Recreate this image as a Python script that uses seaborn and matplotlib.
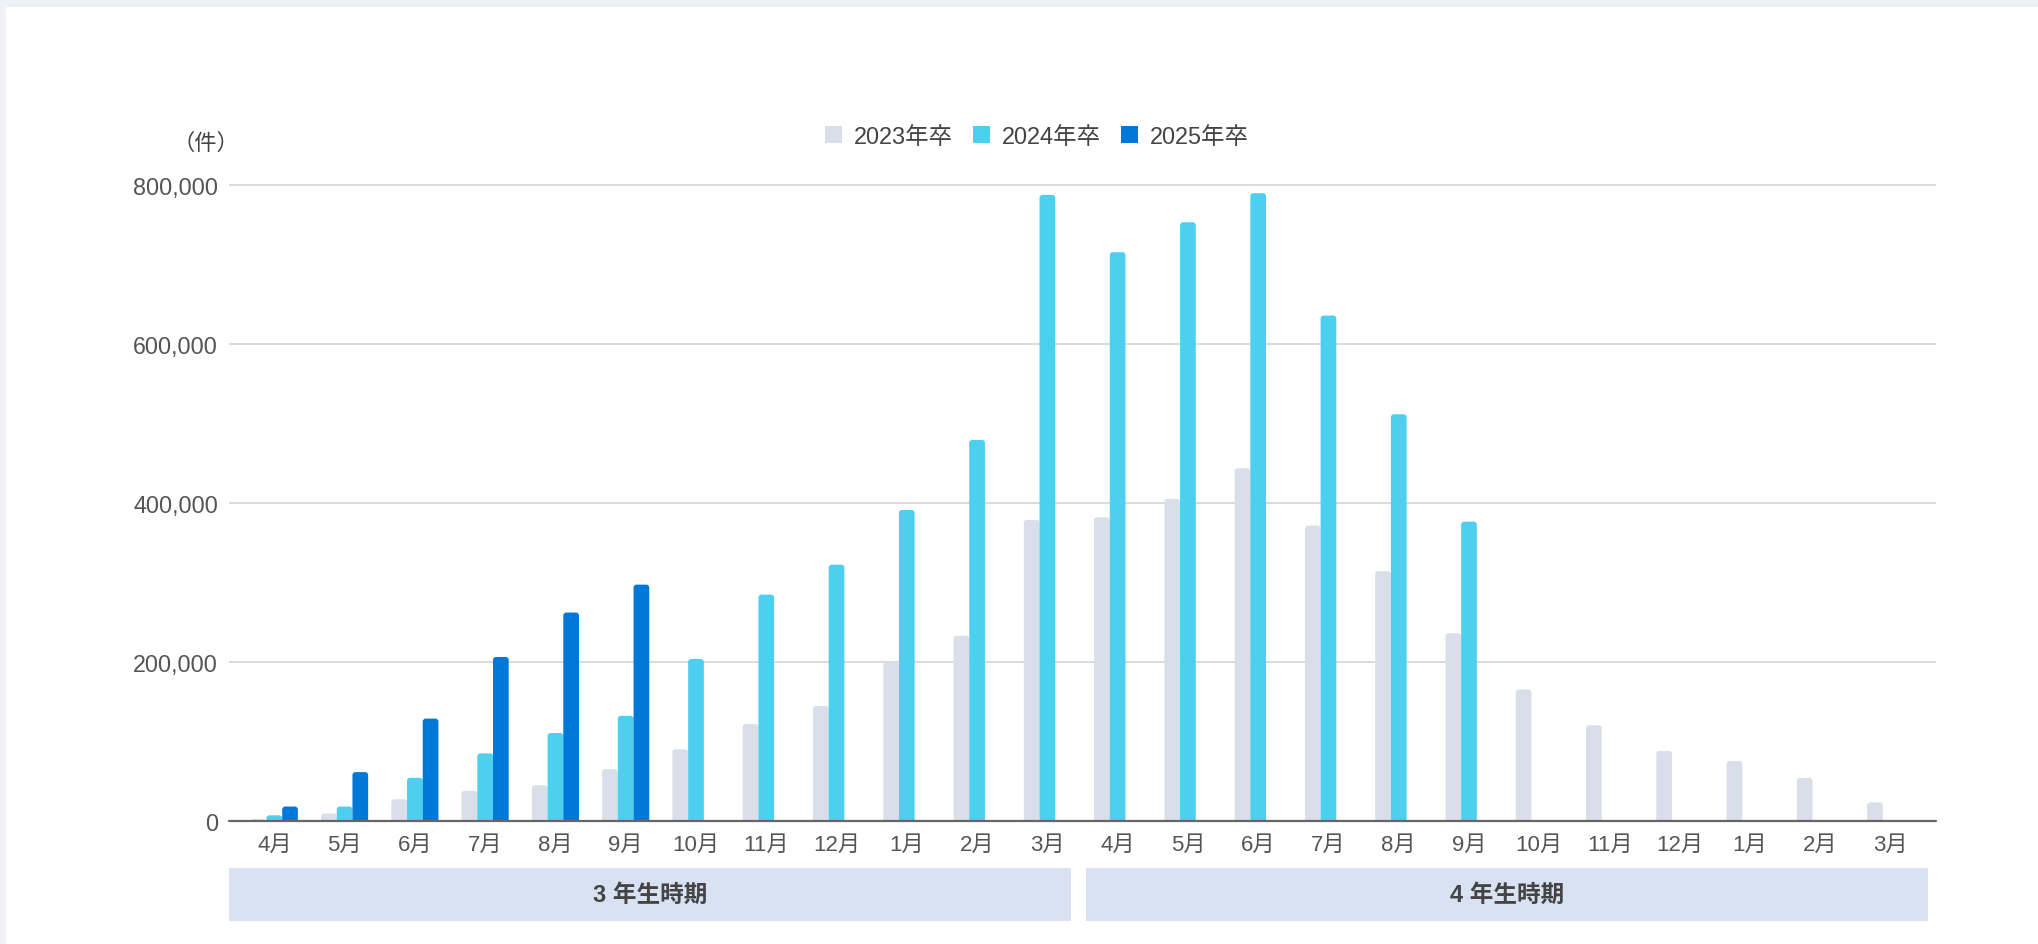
import numpy as np
import pandas as pd
import matplotlib
matplotlib.use("Agg")
import matplotlib.pyplot as plt
from matplotlib.patches import FancyBboxPatch, Rectangle, Patch
import seaborn as sns

# ---- data -------------------------------------------------------------
months = ["4月", "5月", "6月", "7月", "8月", "9月", "10月", "11月", "12月", "1月", "2月", "3月",
          "4月", "5月", "6月", "7月", "8月", "9月", "10月", "11月", "12月", "1月", "2月", "3月"]
periods = ["3 年生時期", "4 年生時期"]
series = ["2023年卒", "2024年卒", "2025年卒"]

v2023 = [2500, 9300, 27400, 37900, 45100, 65300, 90100, 122000, 144700, 199600, 233100, 378700,
         382000, 405100, 443600, 371500, 314100, 236100, 165500, 120400, 88100, 75500, 54100, 23500]
v2024 = [7200, 18200, 54300, 85100, 110700, 132200, 203800, 284700, 322400, 391200, 479300, 787500,
         715400, 753100, 789600, 635700, 511600, 376500]
v2025 = [18200, 61500, 128800, 206300, 262200, 297300]

colors = ["#d9dfe8", "#4dd0ef", "#0078d8"]

rows = []
for name, vals in zip(series, [v2023, v2024, v2025]):
    for i, v in enumerate(vals):
        rows.append({"pos": i, "value": v, "series": name})
df = pd.DataFrame(rows)

# ---- style ------------------------------------------------------------
sns.set_style("white")
plt.rcParams["font.family"] = ["Liberation Sans", "Noto Sans CJK JP"]
text_color = "#444444"

W, H = 2038, 945
fig = plt.figure(figsize=(W / 100, H / 100), dpi=100)
fig.patch.set_facecolor("#eff1f6")
fig.add_artist(Rectangle((6 / W, 0), 1, 1 - 8 / H, transform=fig.transFigure,
                         facecolor="white", edgecolor="none", zorder=-5))

ax = fig.add_axes([229 / W, 1 - 822 / H, (1936 - 229) / W, (822 - 178) / H])
ax.set_facecolor("none")

sns.barplot(data=df, x="pos", y="value", hue="series", hue_order=series,
            palette=colors, width=0.67, gap=0, dodge=True, saturation=1,
            errorbar=None, legend=False, ax=ax)

ax.set_xlim(-0.645, 23.645)
ax.set_ylim(0, 810000)

# rounded bar tops (≈3 px radius)
fig.canvas.draw()
px_x = ax.transData.transform((1, 0))[0] - ax.transData.transform((0, 0))[0]
px_y = ax.transData.transform((0, 1))[1] - ax.transData.transform((0, 0))[1]
rad = 3.0
rx, ry = rad / px_x, rad / px_y
for p in list(ax.patches):
    x, y = p.get_x(), p.get_y()
    w, h = p.get_width(), p.get_height()
    if not np.isfinite(h) or h <= 0:
        p.remove()
        continue
    fc = p.get_facecolor()
    p.remove()
    ax.add_patch(FancyBboxPatch((x, y - 2 * ry), w, h + 2 * ry,
                                boxstyle=f"round,pad=0,rounding_size={rx}",
                                mutation_aspect=ry / rx,
                                facecolor=fc, edgecolor="none", linewidth=0, zorder=2))

# axes decoration
for s in ax.spines.values():
    s.set_visible(False)
yticks = [0, 200000, 400000, 600000, 800000]
ax.set_yticks(yticks)
ax.set_yticklabels([f"{t:,}" for t in yticks])
ax.yaxis.grid(True, color="#d4d4d4", linewidth=1.2)
ax.xaxis.grid(False)
ax.set_axisbelow(True)
ax.axhline(0, color="#666666", linewidth=1.6, zorder=3, clip_on=False)

ax.set_xticks(range(len(months)))
ax.set_xticklabels(months)
ax.tick_params(axis="both", length=0, colors="#555555")
ax.tick_params(axis="x", pad=9, labelsize=16)
ax.tick_params(axis="y", pad=8, labelsize=16.8)
ax.set_xlabel("")
ax.set_ylabel("")

fig.text(206 / W, 1 - 144 / H, "（件）", ha="center", va="center",
         fontsize=16, color=text_color)

# school-year bands under the month labels
band_left, band_right, band_gap = -0.645, 23.53, 0.21
band_w = (band_right - band_left - band_gap) / 2
xt = ax.get_xaxis_transform()
band_y0 = (822 - 922) / (822 - 178)
band_h = (922 - 869) / (822 - 178)
for k, label in enumerate(periods):
    x0 = band_left + k * (band_w + band_gap)
    ax.add_patch(Rectangle((x0, band_y0), band_w, band_h, transform=xt,
                           facecolor="#d9e2f3", edgecolor="none", clip_on=False))
    ax.text(x0 + band_w / 2, band_y0 + band_h / 2, label, transform=xt,
            ha="center", va="center", fontsize=17, fontweight="bold",
            color=text_color)

# legend
handles = [Patch(facecolor=c, edgecolor="none", label=s) for s, c in zip(series, colors)]
fig.legend(handles=handles, loc="center", bbox_to_anchor=(1037 / W, 1 - 137 / H),
           ncol=3, frameon=False, fontsize=16.9, handlelength=0.72, handleheight=0.72,
           handletextpad=0.5, columnspacing=0.87, labelcolor=text_color)

fig.savefig("out.png", dpi=100, facecolor=fig.get_facecolor())
